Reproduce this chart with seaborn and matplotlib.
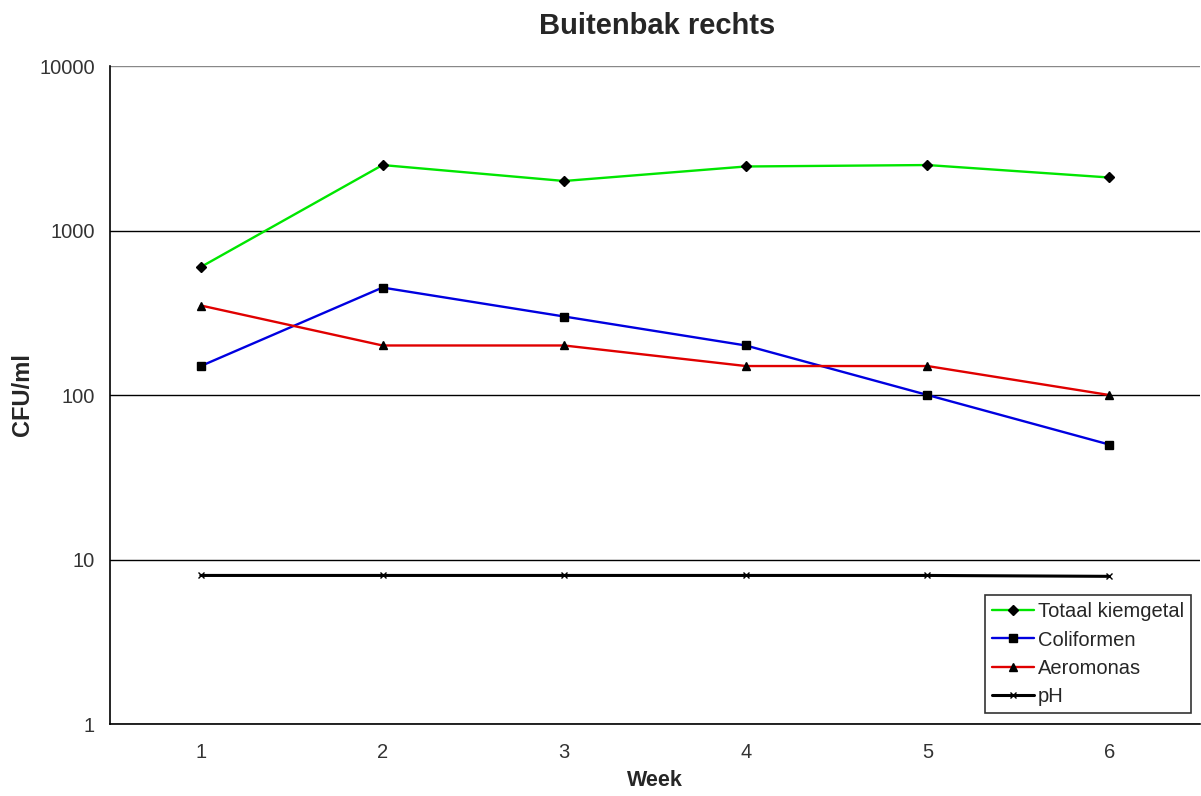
import matplotlib
matplotlib.use("Agg")
import matplotlib.pyplot as plt
import seaborn as sns
import pandas as pd
import numpy as np

# Data
weeks = [1, 2, 3, 4, 5, 6]
totaal_kiemgetal = [600, 2500, 2000, 2450, 2500, 2100]
coliformen = [150, 450, 300, 200, 100, 50]
aeromonas = [350, 200, 200, 150, 150, 100]
ph = [8, 8, 8, 8, 8, 7.9]

series_names = ["Totaal kiemgetal", "Coliformen", "Aeromonas", "pH"]
series_values = [totaal_kiemgetal, coliformen, aeromonas, ph]
colors = ["#00e600", "#0000e0", "#e00000", "#000000"]
markers = ["D", "s", "^", "x"]
marker_sizes = [5, 6, 6, 5]
line_widths = [1.7, 1.7, 1.7, 2.2]

sns.set_style("white")
plt.rcParams["font.family"] = ["Liberation Sans", "DejaVu Sans"]

fig = plt.figure(figsize=(12.01, 7.96), dpi=100)
ax = fig.add_axes([110 / 1201, 1 - 724 / 796, 1090 / 1201, (724 - 66) / 796])

for name, vals, c, m, ms, lw in zip(series_names, series_values, colors, markers, marker_sizes, line_widths):
    df = pd.DataFrame({"Week": weeks, "CFU": vals})
    sns.lineplot(data=df, x="Week", y="CFU", ax=ax, color=c, marker=m, markersize=ms,
                 markerfacecolor="black", markeredgecolor="black", markeredgewidth=1,
                 linewidth=lw, label=name)

ax.set_yscale("log")
ax.set_ylim(1, 10000)
ax.set_xlim(0.5, 6.5)
ax.set_yticks([1, 10, 100, 1000, 10000])
ax.set_yticklabels(["1", "10", "100", "1000", "10000"])
ax.yaxis.set_minor_locator(matplotlib.ticker.NullLocator())
ax.set_xticks(weeks)
ax.set_xticks(np.arange(0.5, 7, 1), minor=True)
ax.tick_params(axis="x", which="major", length=0, labelsize=14.5, pad=14, colors="#333333")
ax.tick_params(axis="x", which="minor", length=5, width=1.2, direction="out", color="black")
ax.tick_params(axis="y", which="major", length=5, width=1.2, direction="out", labelsize=14.5,
               color="black", labelcolor="#333333", pad=6)

ax.grid(axis="y", which="major", color="black", linewidth=1)
ax.get_ygridlines()[-1].set_color("#888888")
for s in ["top", "right"]:
    ax.spines[s].set_visible(False)
ax.spines["left"].set_color("black")
ax.spines["bottom"].set_color("black")
ax.spines["left"].set_linewidth(1.2)
ax.spines["bottom"].set_linewidth(1.2)

ax.set_xlabel("Week", fontsize=15.5, fontweight="bold")
ax.xaxis.set_label_coords(0.5, -0.07)
ax.set_ylabel("CFU/ml", fontsize=17, fontweight="bold")
ax.yaxis.set_label_coords(-0.07, 0.5)
fig.suptitle("Buitenbak rechts", fontsize=21, fontweight="bold", y=0.985, x=0.547)

leg = ax.legend(loc="lower right", bbox_to_anchor=(0.9975, 0.008), fontsize=14.5, frameon=True,
                fancybox=False, edgecolor="black", handlelength=2.1, handletextpad=0.2,
                borderpad=0.35, labelspacing=0.45, borderaxespad=0.3)
leg.get_frame().set_linewidth(1.2)

fig.savefig("out.png", dpi=100)
